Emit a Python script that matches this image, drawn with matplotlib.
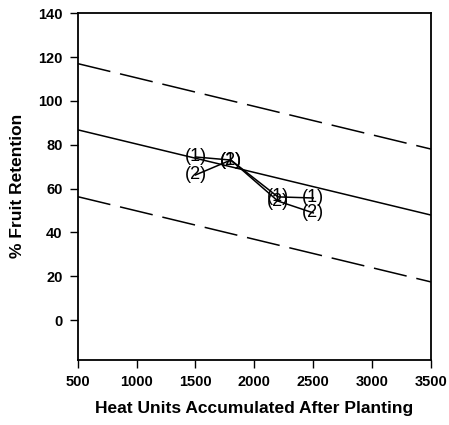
import numpy as np
import matplotlib.pyplot as plt

plt.rcParams['font.family'] = ['Liberation Sans', 'DejaVu Sans']

# regression line and confidence bounds (values at x = 500 and 3500)
line_x = [500, 3500]
fit_y = [86.8, 47.9]
upper_y = [117, 78]
lower_y = [56.3, 17.4]

# observed points, series (1) and (2)
heat_units = [1500, 1800, 2200, 2500]
series1 = [74.4, 73, 56.2, 55.7]
series2 = [66.2, 73, 54.3, 48.9]

xticks = [500, 1000, 1500, 2000, 2500, 3000, 3500]
yticks = [0, 20, 40, 60, 80, 100, 120, 140]

fig = plt.figure(figsize=(4.49, 4.25), dpi=100)
ax = fig.add_axes([0.173, 0.154, 0.787, 0.815])

ax.plot(line_x, fit_y, color='black', lw=1.1)
ax.plot(line_x, upper_y, color='black', lw=1.1, dashes=(22, 6.5))
ax.plot(line_x, lower_y, color='black', lw=1.1, dashes=(22, 6.5))

ax.plot(heat_units, series1, color='black', lw=1.1)
ax.plot(heat_units, series2, color='black', lw=1.1)
for x, y in zip(heat_units, series1):
    ax.text(x, y, '(1)', ha='center', va='center', fontsize=13)
for x, y in zip(heat_units, series2):
    ax.text(x, y, '(2)', ha='center', va='center', fontsize=13)

ax.set_xlim(500, 3500)
ax.set_ylim(-18, 140)
ax.set_xticks(xticks)
ax.set_yticks(yticks)
ax.tick_params(direction='out', length=6, width=1, labelsize=10.5, pad=5)
for lab in ax.get_xticklabels() + ax.get_yticklabels():
    lab.set_fontweight('bold')
for s in ax.spines.values():
    s.set_linewidth(1.3)

ax.set_xlabel('Heat Units Accumulated After Planting', fontsize=12.5, fontweight='bold', labelpad=9)
ax.set_ylabel('% Fruit Retention', fontsize=12.5, fontweight='bold', labelpad=9)

fig.savefig('out.png', dpi=100)
